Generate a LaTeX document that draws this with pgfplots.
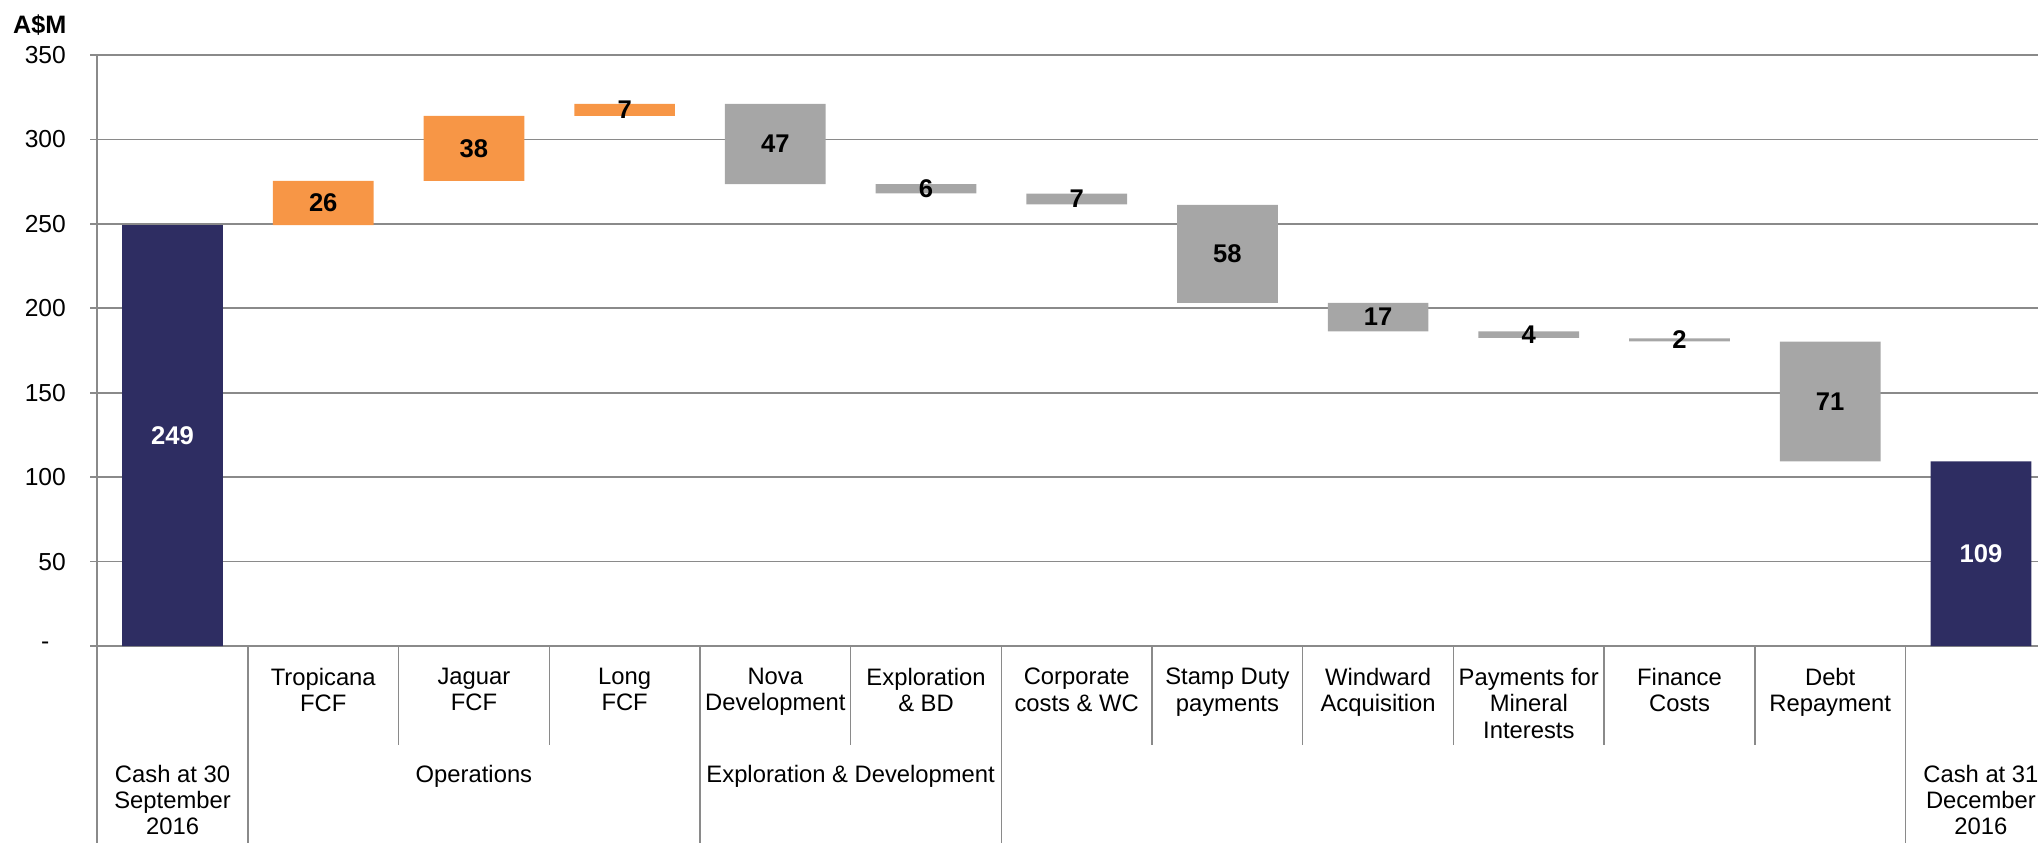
\documentclass[border=0pt]{standalone}
\usepackage{fontspec}
\setmainfont{Liberation Sans}
\usepackage{pgfplots}
\pgfplotsset{compat=1.18}
\usepackage{pgfplotstable}

\definecolor{navy}{HTML}{2E2D62}
\definecolor{orng}{HTML}{F79646}
\definecolor{gry}{HTML}{A6A6A6}
\definecolor{gridc}{HTML}{8A8A8A}

\pgfplotstableread{
x base navy orng grey
0 0 249.3 0 0
1 249.3 0 26.1 0
2 275.4 0 38.5 0
3 313.9 0 7.1 0
4 273.6 0 0 47.4
5 268.1 0 0 5.5
6 261.6 0 0 6.3
7 203.2 0 0 58.0
8 186.4 0 0 16.8
9 182.5 0 0 3.8
10 180.4 0 0 1.8
11 109.3 0 0 70.9
12 0 109.3 0 0
}\bars

\pgfplotstableread{
x y lab
1 262.3 26
2 294.6 38
3 317.5 7
4 297.3 47
5 270.9 6
6 264.8 7
7 232.2 58
8 194.8 17
9 184.4 4
10 181.3 2
11 144.8 71
}\blacklabels

\pgfplotstableread{
x y lab
0 124.6 249
12 54.6 109
}\whitelabels

\begin{document}
\begin{tikzpicture}
\begin{axis}[
  width=970.4pt, height=295.5pt, scale only axis,
  xmin=-0.5, xmax=12.379, ymin=0, ymax=350,
  clip=false,
  ybar stacked, bar width=50.35pt,
  axis y line*=left, axis x line*=bottom,
  axis line style={draw=gridc, line width=0.85pt},
  ymajorgrids, grid style={draw=gridc, line width=0.85pt},
  ytick={0,50,100,150,200,250,300,350},
  yticklabels={\makebox[1.668em][c]{-},50,100,150,200,250,300,350},
  ytick style={draw=gridc, line width=0.85pt},
  tick align=outside, major tick length=3.5pt,
  yticklabel style={font=\fontsize{12.3}{14}\selectfont, inner sep=0pt, anchor=east, xshift=-12pt},
  xtick={1,2,3,4,5,6,7,8,9,10,11},
  xticklabels={Tropicana\\FCF, Jaguar\\FCF, Long\\FCF, Nova\\Development, Exploration\\\& BD, Corporate\\costs \& WC, Stamp Duty\\payments, Windward\\Acquisition, Payments for\\Mineral\\Interests, Finance\\Costs, Debt\\Repayment},
  xtick style={draw=none},
  xticklabel style={font=\fontsize{11.9}{13.2}\selectfont, align=center, anchor=north, inner sep=0pt, yshift=-7.3pt},
  extra x ticks={0,2,4.5,12},
  extra x tick labels={Cash at 30\\September\\2016, Operations, Exploration \& Development, Cash at 31\\December\\2016},
  extra x tick style={xtick style={draw=none}, xticklabel style={yshift=-48.45pt}},
]
\addplot[fill=none, draw=none] table[x=x, y=base] {\bars};
\addplot[fill=navy, draw=none] table[x=x, y=navy] {\bars};
\addplot[fill=orng, draw=none] table[x=x, y=orng] {\bars};
\addplot[fill=gry, draw=none] table[x=x, y=grey] {\bars};
\pgfplotsinvokeforeach{-0.5,0.5,3.5,5.5,11.5}{
  \draw[gridc, line width=0.7pt] (axis cs:#1,0) -- ++(0pt,-105pt);
}
\pgfplotsinvokeforeach{1.5,2.5,4.5,6.5,7.5,8.5,9.5,10.5}{
  \draw[gridc, line width=0.7pt] (axis cs:#1,0) -- ++(0pt,-49.5pt);
}
\node[anchor=base east, inner sep=0pt, xshift=-15.25pt, yshift=10.85pt, font=\fontsize{12.6}{14}\selectfont\bfseries] at (rel axis cs:0,1) {A\$M};
\end{axis}
\begin{axis}[
  width=970.4pt, height=295.5pt, scale only axis,
  xmin=-0.5, xmax=12.379, ymin=0, ymax=350,
  hide axis, clip=false,
]
\addplot[only marks, mark=none, nodes near coords, point meta=explicit symbolic,
  every node near coord/.append style={anchor=center, inner sep=0pt, text=black, font=\fontsize{12.8}{14}\selectfont\bfseries}]
  table[x=x, y=y, meta=lab] {\blacklabels};
\addplot[only marks, mark=none, nodes near coords, point meta=explicit symbolic,
  every node near coord/.append style={anchor=center, inner sep=0pt, text=white, font=\fontsize{12.8}{14}\selectfont\bfseries}]
  table[x=x, y=y, meta=lab] {\whitelabels};
\end{axis}
\pgfresetboundingbox
\path (-48.6pt,-98pt) rectangle (970.4pt,323pt);
\end{tikzpicture}
\end{document}
